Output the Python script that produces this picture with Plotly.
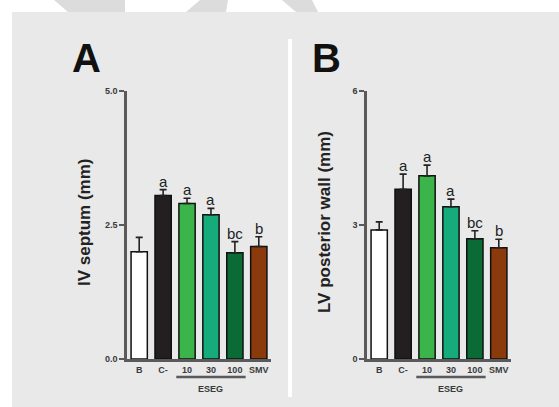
import plotly.graph_objects as go

# ---------------- data ----------------
categories = ["B", "C-", "10", "30", "100", "SMV"]
group_label = "ESEG"
group_members = ["10", "30", "100"]

septum_mean = [2.00, 3.05, 2.90, 2.69, 1.98, 2.10]
septum_sem = [0.27, 0.11, 0.10, 0.12, 0.21, 0.18]
septum_letters = ["", "a", "a", "a", "bc", "b"]

wall_mean = [2.89, 3.80, 4.10, 3.41, 2.69, 2.49]
wall_sem = [0.18, 0.34, 0.24, 0.17, 0.18, 0.19]
wall_letters = ["", "a", "a", "a", "bc", "b"]

bar_colors = ["#ffffff", "#231f20", "#3bb54a", "#16ab7a", "#0b6b34", "#8a3a0b"]

septum_ticks = [0.0, 2.5, 5.0]
septum_ticktext = ["0.0", "2.5", "5.0"]
wall_ticks = [0, 3, 6]
wall_ticktext = ["0", "3", "6"]

panel_titles = ["A", "B"]
y_titles = ["IV septum (mm)", "LV posterior wall (mm)"]

# ---------------- layout helpers ----------------
W, H = 559, 407
def px(x):
    return x / W
def py(y):
    return 1 - y / H

FONT = "Liberation Sans, Arial, sans-serif"
AXIS_COL = "#5a5a5a"
TXT_COL = "#3a3a3a"

fig = go.Figure()

panels = [
    dict(mean=septum_mean, sem=septum_sem, letters=septum_letters,
         ticks=septum_ticks, ticktext=septum_ticktext, yr=[0, 5.0],
         x0=127, xa="x", ya="y"),
    dict(mean=wall_mean, sem=wall_sem, letters=wall_letters,
         ticks=wall_ticks, ticktext=wall_ticktext, yr=[0, 6],
         x0=367, xa="x2", ya="y2"),
]

annotations = []
shapes = []

# grey panel background and white separator
shapes.append(dict(type="rect", xref="paper", yref="paper",
                   x0=px(12), x1=1, y0=0, y1=py(12),
                   fillcolor="#e9e9e9", line_width=0, layer="below"))
shapes.append(dict(type="rect", xref="paper", yref="paper",
                   x0=px(288), x1=px(292), y0=py(397), y1=py(39),
                   fillcolor="#ffffff", line_width=0, layer="below"))

# faint watermark fragments in the white top band
def poly(pts):
    return "M " + " L ".join(f"{px(x)},{py(y)}" for x, y in pts) + " Z"
for pts in ([(54, 0), (125, 0), (125, 12), (68, 12)],
            [(200, 0), (228, 0), (226, 12), (186, 12)],
            [(282, 0), (312, 0), (318, 12), (296, 12)]):
    shapes.append(dict(type="path", xref="paper", yref="paper", path=poly(pts),
                       fillcolor="#dcdcdc", line_width=0, layer="below"))

idx = list(range(len(categories)))

for i, p in enumerate(panels):
    fig.add_trace(go.Bar(
        x=idx, y=p["mean"],
        marker=dict(color=bar_colors, line=dict(color="#111111", width=1.5)),
        width=0.68,
        error_y=dict(type="data", array=p["sem"], arrayminus=[0] * len(p["sem"]),
                     symmetric=False, color="#222222", thickness=1.6, width=3.5),
        xaxis=p["xa"], yaxis=p["ya"], showlegend=False, hoverinfo="skip",
    ))
    xref = p["xa"]
    yref = p["ya"]
    # significance letters
    for k, m, s, t in zip(idx, p["mean"], p["sem"], p["letters"]):
        if t:
            annotations.append(dict(x=k, y=m + s, xref=xref, yref=yref,
                                    text=t, showarrow=False, yanchor="bottom",
                                    yshift=-2,
                                    font=dict(family=FONT, size=15, color="#222222")))
    # group bracket line and label
    i0 = categories.index(group_members[0])
    i1 = categories.index(group_members[-1])
    shapes.append(dict(type="line", xref=xref, yref="paper",
                       x0=i0 - 0.45, x1=i1 + 0.45, y0=py(377), y1=py(377),
                       line=dict(color=AXIS_COL, width=2.5)))
    annotations.append(dict(x=(i0 + i1) / 2, y=py(389), xref=xref, yref="paper",
                            text=group_label, showarrow=False, yanchor="middle",
                            font=dict(family=FONT, size=9, color=TXT_COL, weight="bold")))
    # panel letter
    annotations.append(dict(x=px(p["x0"] - 41), y=py(58), xref="paper", yref="paper",
                            text=panel_titles[i], showarrow=False,
                            xanchor="center", yanchor="middle",
                            font=dict(family=FONT, size=40, color="#111111", weight="bold")))
    # y title
    annotations.append(dict(x=px(p["x0"] - 42), y=py(222), xref="paper", yref="paper",
                            text=y_titles[i], showarrow=False, textangle=-90,
                            xanchor="center", yanchor="middle",
                            font=dict(family=FONT, size=17, color="#222222", weight="bold")))

def xaxis(x0):
    return dict(domain=[px(x0), px(x0 + 144)], range=[-0.51, 5.51],
                tickvals=idx, ticktext=categories, automargin=False,
                showline=True, linecolor=AXIS_COL, linewidth=2.5,
                ticks="", showgrid=False, zeroline=False,
                tickfont=dict(family=FONT, size=9, color=TXT_COL, weight="bold"),
                fixedrange=True)

def yaxis(p, anchor):
    return dict(domain=[py(359), py(91)], range=p["yr"], anchor=anchor,
                tickvals=p["ticks"], ticktext=p["ticktext"], automargin=False,
                showline=True, linecolor=AXIS_COL, linewidth=2.5,
                ticks="outside", ticklen=5, tickwidth=2, tickcolor=AXIS_COL,
                showgrid=False, zeroline=False,
                tickfont=dict(family=FONT, size=9, color=TXT_COL, weight="bold"),
                fixedrange=True)

fig.update_layout(
    width=W, height=H,
    margin=dict(l=0, r=0, t=0, b=0, autoexpand=False),
    paper_bgcolor="#ffffff",
    plot_bgcolor="#fbfbfb",
    xaxis=dict(xaxis(127), anchor="y"),
    yaxis=yaxis(panels[0], "x"),
    xaxis2=dict(xaxis(367), anchor="y2"),
    yaxis2=yaxis(panels[1], "x2"),
    annotations=annotations,
    shapes=shapes,
    bargap=0.32,
)

fig.write_html("out.html", config={"displayModeBar": False},
               post_script="document.body.style.margin='0';"
                           "document.body.style.overflow='hidden';")
